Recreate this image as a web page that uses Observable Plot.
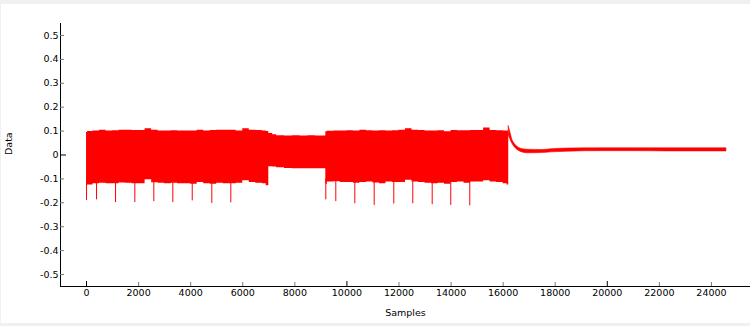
<!DOCTYPE html>
<html>
<head>
<meta charset="utf-8">
<script src="https://cdn.jsdelivr.net/npm/d3@7"></script>
<script src="https://cdn.jsdelivr.net/npm/@observablehq/plot@0.6"></script>
<style>
  html, body { margin: 0; padding: 0; background: #f0f0f0; width: 750px; height: 326px; overflow: hidden; }
  #panel { position: absolute; left: 1px; top: 4px; width: 749px; height: 319px; background: #ffffff; }
  #chart { position: absolute; left: 0; top: 0; }
</style>
</head>
<body>
<div id="panel"></div>
<div id="chart"></div>
<script>
// Envelope of the dense signal (sample index, upper and lower extent)
const envX = [0, 40, 250, 500, 750, 1000, 1250, 1500, 1750, 2000, 2250, 2500, 2750, 3000, 3250, 3500, 3750, 4000, 4250, 4500, 4750, 5000, 5250, 5500, 5750, 6000, 6250, 6500, 6750, 6900,
  7000, 7150, 7300, 7600, 7900, 8200, 8500, 8800, 9050,
  9190, 9250, 9500, 9750, 10000, 10250, 10500, 10750, 11000, 11250, 11500, 11750, 12000, 12250, 12500, 12750, 13000, 13250, 13500, 13750, 14000, 14250, 14500, 14750, 15000, 15250, 15500, 15750, 16000, 16150];
const envHi = [0.094, 0.098, 0.1, 0.103, 0.1, 0.101, 0.104, 0.104, 0.102, 0.102, 0.11, 0.104, 0.1, 0.1, 0.101, 0.1, 0.1, 0.1, 0.104, 0.1, 0.102, 0.104, 0.104, 0.103, 0.1, 0.11, 0.104, 0.102, 0.1, 0.098,
  0.09, 0.085, 0.08, 0.079, 0.081, 0.079, 0.08, 0.079, 0.079,
  0.097, 0.099, 0.1, 0.1, 0.101, 0.1, 0.104, 0.101, 0.1, 0.101, 0.1, 0.101, 0.104, 0.11, 0.104, 0.102, 0.1, 0.1, 0.101, 0.097, 0.102, 0.101, 0.101, 0.102, 0.102, 0.113, 0.102, 0.101, 0.1, 0.1];
const envLo = [-0.13, -0.125, -0.12, -0.118, -0.12, -0.12, -0.117, -0.118, -0.12, -0.12, -0.104, -0.116, -0.118, -0.12, -0.118, -0.12, -0.12, -0.122, -0.115, -0.12, -0.122, -0.118, -0.12, -0.12, -0.118, -0.108, -0.115, -0.118, -0.12, -0.129,
  -0.049, -0.05, -0.053, -0.056, -0.058, -0.057, -0.058, -0.057, -0.058,
  -0.122, -0.113, -0.112, -0.115, -0.115, -0.118, -0.115, -0.113, -0.117, -0.12, -0.113, -0.115, -0.115, -0.106, -0.113, -0.115, -0.118, -0.12, -0.118, -0.122, -0.115, -0.113, -0.118, -0.113, -0.113, -0.108, -0.113, -0.115, -0.12, -0.125];

// Settling tail after the last burst
const tailX = [16215, 16240, 16290, 16350, 16420, 16550, 16680, 16940, 17480, 17860, 18500, 19800, 21000, 22350, 23500, 24576];
const tailHi = [0.12, 0.11, 0.09, 0.065, 0.05, 0.034, 0.026, 0.022, 0.021, 0.024, 0.027, 0.028, 0.028, 0.028, 0.028, 0.028];
const tailLo = [0.08, 0.075, 0.062, 0.048, 0.036, 0.021, 0.013, 0.007, 0.008, 0.011, 0.014, 0.016, 0.016, 0.015, 0.015, 0.015];

// Downward spikes
const spikeX = [0, 384, 1114, 1855, 2584, 3314, 4059, 4811, 5541, 9189, 9573, 10303, 11048, 11800, 12530, 13275, 13989, 14719];
const spikeY = [-0.19, -0.1875, -0.199, -0.199, -0.195, -0.199, -0.192, -0.203, -0.2, -0.1875, -0.195, -0.204, -0.211, -0.205, -0.204, -0.208, -0.211, -0.2125];

// Axes
const xTicks = [0, 2000, 4000, 6000, 8000, 10000, 12000, 14000, 16000, 18000, 20000, 22000, 24000];
const xMajor = [0, 10000, 20000];
const yTicks = [-0.5, -0.4, -0.3, -0.2, -0.1, 0, 0.1, 0.2, 0.3, 0.4, 0.5];
const yLabels = ["-0.5", "-0.4", "-0.3", "-0.2", "-0.1", "0", "0.1", "0.2", "0.3", "0.4", "0.5"];
const yMajor = [0];
const xDomain = [-1000, 25500];
const yDomain = [-0.55, 0.55];

const env = envX.map((x, i) => ({x, hi: envHi[i], lo: envLo[i]}));
env.push({x: tailX[0], hi: tailHi[0], lo: tailLo[0]});
const tail = tailX.map((x, i) => ({x, hi: tailHi[i], lo: tailLo[i]}));
const spikes = spikeX.map((x, i) => ({x, y: spikeY[i]}));
const RED = "#ff0000";
const FONT = "DejaVu Sans";

const chart = Plot.plot({
  width: 750,
  height: 326,
  marginLeft: 60,
  marginRight: 0,
  marginTop: 23,
  marginBottom: 40,
  style: {background: "transparent", fontFamily: FONT, fontSize: "9.5px", color: "#000"},
  x: {domain: xDomain, axis: null},
  y: {domain: yDomain, axis: null},
  marks: [
    Plot.areaY(env, {x: "x", y1: "lo", y2: "hi", fill: RED, curve: "step-after"}),
    Plot.areaY(tail, {x: "x", y1: "lo", y2: "hi", fill: RED, stroke: RED, strokeWidth: 0.6, curve: "monotone-x"}),
    Plot.ruleX(spikes, {x: "x", y1: -0.1, y2: "y", stroke: RED, strokeWidth: 1}),
    // axis lines
    Plot.ruleX([xDomain[0]], {stroke: "#000", strokeWidth: 1}),
    Plot.ruleY([yDomain[0]], {stroke: "#000", strokeWidth: 1}),
    // y ticks (inward)
    Plot.axisY(yTicks.filter(d => !yMajor.includes(d)), {tickSize: -4, stroke: "#777", fill: "none", label: null}),
    Plot.axisY(yMajor, {tickSize: -6, stroke: "#000", fill: "none", label: null}),
    Plot.axisY(yTicks, {tickSize: 0, tickPadding: 2, tickFormat: (d, i) => yLabels[i], fill: "#000", label: null, fontSize: 9.5}),
    // x ticks (inward)
    Plot.axisX(xTicks.filter(d => !xMajor.includes(d)), {tickSize: -4, stroke: "#777", fill: "none", label: null}),
    Plot.axisX(xMajor, {tickSize: -5, stroke: "#000", fill: "none", label: null}),
    Plot.axisX(xTicks, {tickSize: 0, tickPadding: 3, tickFormat: d => String(d), fill: "#000", label: null, fontSize: 9.5}),
    // axis titles
    Plot.text(["Data"], {frameAnchor: "left", dx: -52, rotate: -90, fill: "#000", fontSize: 9.5}),
    Plot.text(["Samples"], {frameAnchor: "bottom", dy: 29, fill: "#000", fontSize: 9.5})
  ]
});
document.getElementById("chart").appendChild(chart);
</script>
</body>
</html>
